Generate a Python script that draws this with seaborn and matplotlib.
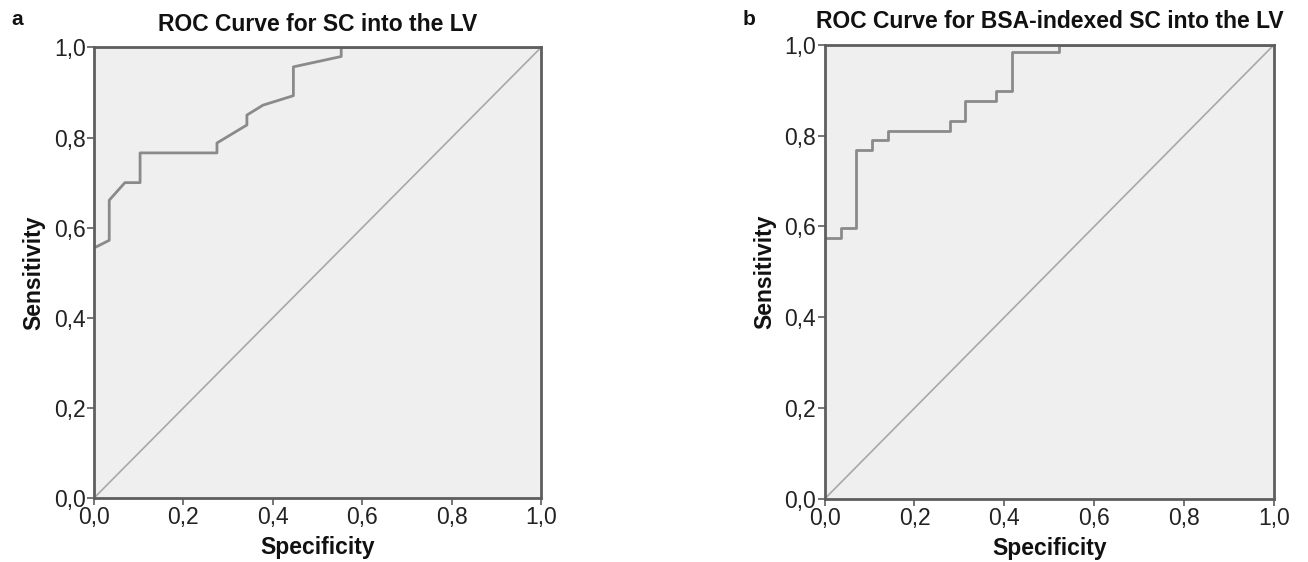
import matplotlib
matplotlib.use("Agg")
import matplotlib.pyplot as plt
import pandas as pd
import seaborn as sns

# ROC points (specificity axis as drawn, sensitivity)
SPEC_A = [0.0, 0.034, 0.034, 0.069, 0.103, 0.103, 0.275, 0.275, 0.342, 0.342,
          0.378, 0.446, 0.446, 0.553, 0.553, 1.0]
SENS_A = [0.555, 0.572, 0.661, 0.700, 0.700, 0.766, 0.766, 0.788, 0.828, 0.850,
          0.872, 0.893, 0.957, 0.980, 1.0, 1.0]

SPEC_B = [0.0, 0.036, 0.036, 0.070, 0.070, 0.105, 0.105, 0.140, 0.140, 0.278,
          0.278, 0.312, 0.312, 0.382, 0.382, 0.416, 0.416, 0.521, 0.521, 1.0]
SENS_B = [0.575, 0.575, 0.597, 0.597, 0.768, 0.768, 0.790, 0.790, 0.811, 0.811,
          0.832, 0.832, 0.876, 0.876, 0.898, 0.898, 0.984, 0.984, 1.0, 1.0]

REF_LINE = [0.0, 1.0]
TICKS = [0.0, 0.2, 0.4, 0.6, 0.8, 1.0]
TICK_LABELS = ["0,0", "0,2", "0,4", "0,6", "0,8", "1,0"]
TITLES = ["ROC Curve for SC into the LV", "ROC Curve for BSA-indexed SC into the LV"]
LETTERS = ["a", "b"]

sns.set_style("white")
plt.rcParams["font.family"] = ["Liberation Sans", "DejaVu Sans"]
plt.rcParams["text.color"] = "#111111"
plt.rcParams["axes.labelcolor"] = "#111111"
plt.rcParams["xtick.labelcolor"] = "#222222"
plt.rcParams["ytick.labelcolor"] = "#222222"

fig = plt.figure(figsize=(13.08, 5.62), dpi=100)
axes = [
    fig.add_axes([0.0719, 0.1139, 0.3417, 0.8016]),
    fig.add_axes([0.6304, 0.1121, 0.3437, 0.8084]),
]

curves = [(SPEC_A, SENS_A), (SPEC_B, SENS_B)]
frame_col = "#5e5e5e"
for ax, (spec, sens), title, letter in zip(axes, curves, TITLES, LETTERS):
    ax.set_facecolor("#efefef")
    ref = pd.DataFrame({"x": REF_LINE, "y": REF_LINE})
    sns.lineplot(data=ref, x="x", y="y", ax=ax, color="#a8a8a8", linewidth=1.2)
    roc = pd.DataFrame({"spec": spec, "sens": sens})
    sns.lineplot(data=roc, x="spec", y="sens", ax=ax, sort=False, estimator=None,
                 color="#8a8a8a", linewidth=2.0)
    ax.set_xlim(0, 1)
    ax.set_ylim(0, 1)
    ax.set_xticks(TICKS)
    ax.set_xticklabels(TICK_LABELS)
    ax.set_yticks(TICKS)
    ax.set_yticklabels(TICK_LABELS)
    ax.tick_params(axis="both", labelsize=16.5, length=5, width=1.2, color=frame_col,
                   pad=1, direction="out", bottom=True, left=True)
    for side in ax.spines.values():
        side.set_color(frame_col)
        side.set_linewidth(2.0)
    ax.set_xlabel("Specificity", fontsize=16.5, fontweight="bold", labelpad=5)
    ax.set_ylabel("Sensitivity", fontsize=16.5, fontweight="bold", labelpad=6)
    ax.set_title(title, fontsize=16.5, fontweight="bold", pad=12)
    pos = ax.get_position()
    fig.text(pos.x0 - 0.063, 0.965, letter, fontsize=15, fontweight="bold",
             ha="left", va="center")

fig.savefig("out.png", dpi=100)
